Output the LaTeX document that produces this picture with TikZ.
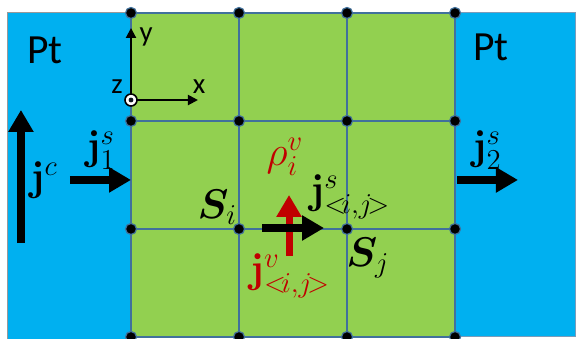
\documentclass[tikz,border=0pt]{standalone}
\usepackage[no-math]{fontspec}
\setmainfont{Carlito}
\usepackage{amsmath,bm}
\usetikzlibrary{arrows.meta}
\definecolor{ptblue}{HTML}{00B0F0}
\definecolor{cellgreen}{HTML}{92D050}
\definecolor{gridline}{HTML}{41719C}
\definecolor{fluxred}{HTML}{C00000}
\tikzset{
  cell/.style={draw=gridline, line width=1pt},
  knot/.style={circle, fill=black, draw=gridline, line width=0.6pt, inner sep=0pt, minimum size=5.5pt},
  flux/.style={line width=4pt, -{Triangle[length=11pt, width=12pt]}},
  axis/.style={line width=1pt, -{Triangle[length=5pt, width=5pt]}},
  lbl/.style={font=\huge, inner sep=0pt},
}
\begin{document}
\begin{tikzpicture}[x=54pt, y=54pt]
  \useasboundingbox (-1.213,-0.0185) rectangle (4.120,3.120);
  % 1. 铂电极与网格区域
  \fill[ptblue, draw=gray!80, line width=0.5pt] (-1.148,-0.03) rectangle (0,3);
  \fill[ptblue, draw=gridline!70, line width=0.5pt] (3,0) rectangle (4.112,3);
  \fill[cellgreen] (0,0) rectangle (3,3);
  \foreach \i in {0,...,3} {
    \draw[cell] (\i,0) -- (\i,3);
    \draw[cell] (0,\i) -- (3,\i);
  }
  \foreach \i in {0,...,3}
    \foreach \j in {0,...,3}
      \node[knot] (k\i\j) at (\i,\j) {};

  % 2. 坐标系
  \coordinate (orig) at (0,2.194);
  \coordinate (ytip) at (0,2.861);
  \coordinate (xtip) at (0.620,2.194);
  \draw[axis] (orig) -- (ytip);
  \draw[axis] (orig) -- (xtip);
  \fill[white, draw=black, line width=0.8pt] (orig) circle (3pt);
  \fill[black!80!gridline] (orig) circle (1.2pt);
  \node[font=\Large, inner sep=0pt] (ylab) at (0.139,2.778) {y};
  \node[font=\Large, inner sep=0pt] (xlab) at (0.63,2.315) {x};
  \node[font=\Large, inner sep=0pt] (zlab) at (-0.13,2.315) {z};

  % 3. 文字
  \node[font=\huge, inner sep=0pt] (ptl) at (-0.796,2.657) {Pt};
  \node[font=\huge, inner sep=0pt] (ptr) at (3.333,2.685) {Pt};
  \node[lbl] (si) at (0.800,1.204) {$\bm{S}_i$};
  \node[lbl] (sj) at (2.194,0.731) {$\bm{S}_j$};
  \node[lbl] (jc) at (-0.806,1.454) {$\mathbf{j}^c$};
  \node[lbl] (js1) at (-0.278,1.731) {$\mathbf{j}^s_1$};
  \node[lbl] (js2) at (3.296,1.731) {$\mathbf{j}^s_2$};
  \node[lbl] (jsij) at (2.03,1.296) {$\mathbf{j}^s_{<\!i,j\!>}$};
  \node[lbl, text=fluxred] (rho) at (1.426,1.667) {$\rho^v_i$};
  \node[lbl, text=fluxred] (jvij) at (1.472,0.565) {$\mathbf{j}^v_{<\!i,j\!>}$};

  % 4. 流
  \coordinate (jc-a) at (-1.019,0.870);
  \coordinate (jc-b) at (-1.019,2.102);
  \coordinate (j1-a) at (-0.565,1.454);
  \coordinate (j1-b) at (0,1.454);
  \coordinate (j2-a) at (3.019,1.454);
  \coordinate (j2-b) at (3.583,1.454);
  \coordinate (jv-a) at (1.463,0.750);
  \coordinate (jv-b) at (1.463,1.315);
  \coordinate (js-a) at (1.213,1.009);
  \coordinate (js-b) at (1.787,1.009);
  \draw[flux] (jc-a) -- (jc-b);
  \draw[flux] (j1-a) -- (j1-b);
  \draw[flux] (j2-a) -- (j2-b);
  \draw[flux, fluxred, line width=3.5pt] (jv-a) -- (jv-b);
  \draw[flux] (js-a) -- (js-b);
\end{tikzpicture}
\end{document}
